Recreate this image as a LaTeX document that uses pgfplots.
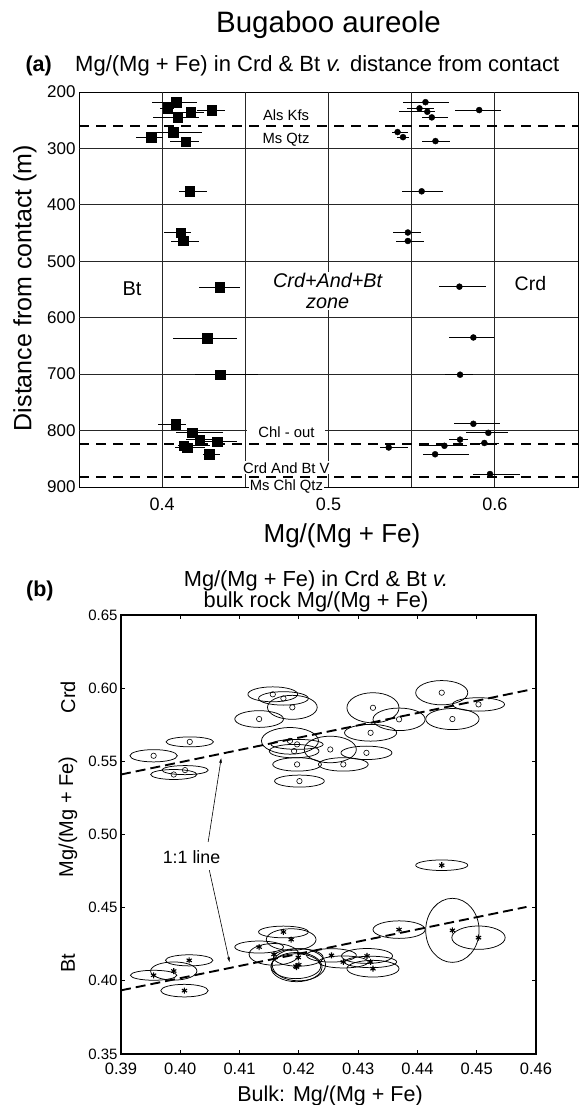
\documentclass[border=0pt]{standalone}
\usepackage{fontspec}
\setmainfont{Liberation Sans}
\usepackage{pgfplots}
\pgfplotsset{compat=1.18}
\usepackage{pgfplotstable}
\usetikzlibrary{arrows.meta}

\newcommand\fsz[1]{\fontsize{#1bp}{#1bp}\selectfont}

% (a) Mg/(Mg+Fe) against distance; v = value, lo/hi = ends of the bar
\pgfplotstableread{
d v lo hi
218 0.4085 0.3940 0.4210
229 0.4034 0.3984 0.4074
236 0.4170 0.4092 0.4249
232 0.4298 0.4209 0.4377
245 0.4092 0.3944 0.4220
271 0.4067 0.3960 0.4240
280 0.3933 0.3843 0.4007
288 0.4141 0.4050 0.4220
376 0.4165 0.4102 0.4270
449 0.4112 0.4010 0.4176
464 0.4126 0.4056 0.4222
546 0.4346 0.4222 0.4466
636 0.4270 0.4066 0.4447
701 0.4350 0.4196 0.4576
789 0.4082 0.3976 0.4146
804 0.4180 0.4082 0.4366
816 0.4226 0.4146 0.4310
820 0.4330 0.4256 0.4447
827 0.4130 0.4096 0.4286
830 0.4150 0.4080 0.4260
842 0.4282 0.4246 0.4350
}\btA

\pgfplotstableread{
d v lo hi
218 0.5583 0.5446 0.5722
229 0.5547 0.5469 0.5632
235 0.5594 0.5424 0.5639
232 0.5906 0.5760 0.6040
245 0.5621 0.5560 0.5720
271 0.5415 0.5380 0.5480
280 0.5448 0.5413 0.5482
287 0.5643 0.5565 0.5733
376 0.5560 0.5440 0.5687
449 0.5477 0.5390 0.5557
464 0.5477 0.5407 0.5577
545 0.5787 0.5667 0.5947
635 0.5871 0.5723 0.5997
701 0.5791 0.5703 0.5870
788 0.5871 0.5757 0.6030
804 0.5961 0.5827 0.6077
816 0.5791 0.5727 0.5837
822 0.5937 0.5857 0.6027
827 0.5697 0.5547 0.5831
830 0.5362 0.5310 0.5480
842 0.5641 0.5571 0.5847
877 0.5971 0.5871 0.6151
}\crdA

% (b) mineral against bulk rock; rx, ry = half-axes of the uncertainty ellipse
\pgfplotstableread{
x y rx ry
0.4156 0.5958 0.0042 0.0051
0.4174 0.5930 0.0042 0.0046
0.4189 0.5869 0.0042 0.0082
0.4133 0.5789 0.0041 0.0057
0.4016 0.5633 0.0040 0.0034
0.3955 0.5538 0.0040 0.0042
0.4008 0.5440 0.0039 0.0031
0.3989 0.5410 0.0039 0.0034
0.4201 0.5365 0.0042 0.0041
0.4185 0.5640 0.0048 0.0091
0.4197 0.5616 0.0044 0.0034
0.4192 0.5570 0.0042 0.0046
0.4197 0.5479 0.0041 0.0046
0.4253 0.5581 0.0044 0.0091
0.4325 0.5866 0.0044 0.0103
0.4369 0.5787 0.0044 0.0077
0.4321 0.5695 0.0044 0.0057
0.4314 0.5558 0.0043 0.0046
0.4275 0.5479 0.0042 0.0046
0.4441 0.5969 0.0044 0.0083
0.4503 0.5889 0.0044 0.0046
0.4459 0.5789 0.0045 0.0072
}\crdB

\pgfplotstableread{
x y rx ry
0.4015 0.4140 0.0040 0.0038
0.3989 0.4067 0.0039 0.0062
0.3955 0.4038 0.0039 0.0034
0.4007 0.3933 0.0040 0.0043
0.4174 0.4334 0.0042 0.0040
0.4187 0.4282 0.0042 0.0074
0.4133 0.4231 0.0041 0.0041
0.4158 0.4181 0.0042 0.0074
0.4199 0.4160 0.0042 0.0060
0.4196 0.4094 0.0043 0.0100
0.4200 0.4110 0.0045 0.0110
0.4195 0.4100 0.0042 0.0085
0.4441 0.4790 0.0044 0.0036
0.4369 0.4350 0.0044 0.0060
0.4459 0.4345 0.0045 0.0219
0.4503 0.4295 0.0045 0.0080
0.4255 0.4174 0.0042 0.0046
0.4275 0.4129 0.0042 0.0041
0.4315 0.4170 0.0043 0.0051
0.4321 0.4129 0.0044 0.0039
0.4325 0.4083 0.0044 0.0057
}\btB

% uncertainty ellipses of one table (axis of (b): 415bp per 0.07, 439bp per 0.30)
\newcommand\drawellipses[1]{%
  \pgfplotstablegetrowsof{#1}%
  \pgfmathtruncatemacro\nrows{\pgfplotsretval-1}%
  \foreach \i in {0,...,\nrows}{%
    \pgfplotstablegetelem{\i}{x}\of{#1}\let\ex\pgfplotsretval
    \pgfplotstablegetelem{\i}{y}\of{#1}\let\ey\pgfplotsretval
    \pgfplotstablegetelem{\i}{rx}\of{#1}\pgfmathsetmacro\erx{\pgfplotsretval*5928.57}%
    \pgfplotstablegetelem{\i}{ry}\of{#1}\pgfmathsetmacro\ery{\pgfplotsretval*1463.33}%
    \edef\tmp{\noexpand\draw[line width=0.75pt] (axis cs:\ex,\ey) ellipse [x radius=\erx bp, y radius=\ery bp];}\tmp
  }}

\pgfplotsset{
  errbars/.style={only marks, black,
    error bars/x dir=both, error bars/x explicit, error bars/error mark=none,
    error bars/error bar style={line width=0.9pt}},
}

\begin{document}
\begin{tikzpicture}
\useasboundingbox (0,0) rectangle (582bp,1105bp);

% titles
\node[anchor=base, inner sep=0pt] at (328.5bp,1072bp) {\fsz{29.5}Bugaboo aureole};
\node[anchor=base east, inner sep=0pt] at (52bp,1033bp) {\fsz{21.5}\textbf{(a)}};
\node[anchor=base west, inner sep=0pt] at (75bp,1033bp) {\fsz{22}Mg/(Mg + Fe) in Crd \& Bt \textit{v.} distance from contact};

% ---------- (a) ----------
\begin{axis}[
  at={(79bp,618bp)}, anchor=south west,
  scale only axis, width=499bp, height=395bp,
  xmin=0.35, xmax=0.65, ymin=200, ymax=900, y dir=reverse,
  xtick={0.4,0.5,0.6}, ytick={200,300,400,500,600,700,800,900},
  xticklabels={0.4,0.5,0.6},
  major tick length=0pt,
  axis line style={line width=0.9pt},
  clip=false,
  /pgf/number format/assume math mode=true,
  xticklabel style={font=\fsz{18}},
  yticklabel style={font=\fsz{17}},
  xticklabel shift=7bp,
]
% grid
\foreach \yy in {300,400,500,600,700,800}{
  \edef\tmp{\noexpand\draw[line width=0.8pt, black!85] (axis cs:0.35,\yy) -- (axis cs:0.65,\yy);}\tmp}
\foreach \xx in {0.4,0.45,0.5,0.55,0.6}{
  \edef\tmp{\noexpand\draw[line width=0.8pt, black!85] (axis cs:\xx,200) -- (axis cs:\xx,900);}\tmp}
% isograds
\draw[line width=1.6pt, dash pattern=on 10bp off 7bp] (axis cs:0.35,260) -- (axis cs:0.65,260);
\draw[line width=1.6pt, dash pattern=on 10bp off 7bp] (axis cs:0.35,824) -- (axis cs:0.65,824);
\draw[line width=1.6pt, dash pattern=on 10bp off 7bp] (axis cs:0.35,882) -- (axis cs:0.65,882);

\addplot[errbars, mark=square*, mark size=4.7bp]
  table[x=v, y=d, x error plus expr=\thisrow{hi}-\thisrow{v}, x error minus expr=\thisrow{v}-\thisrow{lo}] {\btA};
\addplot[errbars, mark=*, mark size=3bp]
  table[x=v, y=d, x error plus expr=\thisrow{hi}-\thisrow{v}, x error minus expr=\thisrow{v}-\thisrow{lo}] {\crdA};

\node[font=\fsz{14.8}] at (axis cs:0.4745,242) {Als Kfs};
\node[font=\fsz{14.8}] at (axis cs:0.4745,285) {Ms Qtz};
\node[font=\fsz{14.8}, fill=white, inner xsep=11bp, inner ysep=2bp] at (axis cs:0.4747,803) {Chl - out};
\node[font=\fsz{14.8}, fill=white, inner sep=1bp] at (axis cs:0.4747,866) {Crd And Bt V};
\node[font=\fsz{14.8}, fill=white, inner sep=1bp] at (axis cs:0.4747,899) {Ms Chl Qtz};
\node[font=\fsz{20}] at (axis cs:0.3819,548) {Bt};
\node[font=\fsz{19.5}] at (axis cs:0.6214,540) {Crd};
\node[fill=white, inner sep=1bp, align=center, font=\fontsize{19.8bp}{21bp}\selectfont\itshape]
  at (axis cs:0.4995,553) {Crd+And+Bt\\zone};
\end{axis}
\node[rotate=90, font=\fsz{25}] at (25bp,817bp) {Distance from contact (m)};
\node[anchor=base, inner sep=0pt] at (342bp,562bp) {\fsz{26}Mg/(Mg + Fe)};

% ---------- (b) ----------
\node[anchor=base, inner sep=0pt] at (316bp,518.3bp) {\fsz{21.8}Mg/(Mg + Fe) in Crd \& Bt \textit{v.}};
\node[anchor=base, inner sep=0pt] at (316bp,497.7bp) {\fsz{21.8}bulk rock Mg/(Mg + Fe)};
\node[anchor=base west, inner sep=0pt] at (26bp,508bp) {\fsz{21.5}\textbf{(b)}};

\begin{axis}[
  at={(121bp,51bp)}, anchor=south west,
  scale only axis, width=415bp, height=439bp,
  xmin=0.39, xmax=0.46, ymin=0.35, ymax=0.65,
  xtick={0.39,0.40,0.41,0.42,0.43,0.44,0.45,0.46},
  ytick={0.35,0.40,0.45,0.50,0.55,0.60,0.65},
  tick align=inside, major tick length=4bp,
  tick style={line width=0.8pt, black},
  axis line style={line width=1.2pt},
  clip=false,
  /pgf/number format/assume math mode=true,
  xticklabel style={font=\fsz{16.5}, /pgf/number format/.cd, fixed, fixed zerofill, precision=2},
  yticklabel style={font=\fsz{15}, /pgf/number format/.cd, fixed, fixed zerofill, precision=2},
  xticklabel shift=5bp,
]
\addplot[black, line width=1.9pt, dash pattern=on 10bp off 5bp] coordinates {(0.39,0.541) (0.4587,0.5987)};
\addplot[black, line width=1.9pt, dash pattern=on 10bp off 5bp] coordinates {(0.39,0.3935) (0.4584,0.4505)};

\drawellipses{\crdB}
\drawellipses{\btB}
\addplot[only marks, black, mark=o, mark size=2.7bp, mark options={line width=0.6pt}] table[x=x, y=y] {\crdB};
\addplot[only marks, black, mark=asterisk, mark size=3bp, mark options={line width=1.1pt}] table[x=x, y=y] {\btB};

\node[font=\fsz{17.8}, fill=white, inner sep=1bp] at (axis cs:0.4019,0.4847) {1:1 line};
\draw[line width=0.6pt, -{Stealth[length=5bp,width=3bp]}] (axis cs:0.4047,0.4949) -- (axis cs:0.4069,0.5521);
\draw[line width=0.6pt, -{Stealth[length=5bp,width=3bp]}] (axis cs:0.4049,0.4756) -- (axis cs:0.4083,0.4129);
\end{axis}

\node[anchor=base, inner sep=0pt] at (330bp,4bp) {\fsz{21.5}Bulk: Mg/(Mg + Fe)};
\node[rotate=90, font=\fsz{20}] at (68bp,408bp) {Crd};
\node[rotate=90, font=\fsz{20}] at (68bp,288bp) {Mg/(Mg + Fe)};
\node[rotate=90, font=\fsz{20}] at (68bp,142bp) {Bt};
\end{tikzpicture}
\end{document}
